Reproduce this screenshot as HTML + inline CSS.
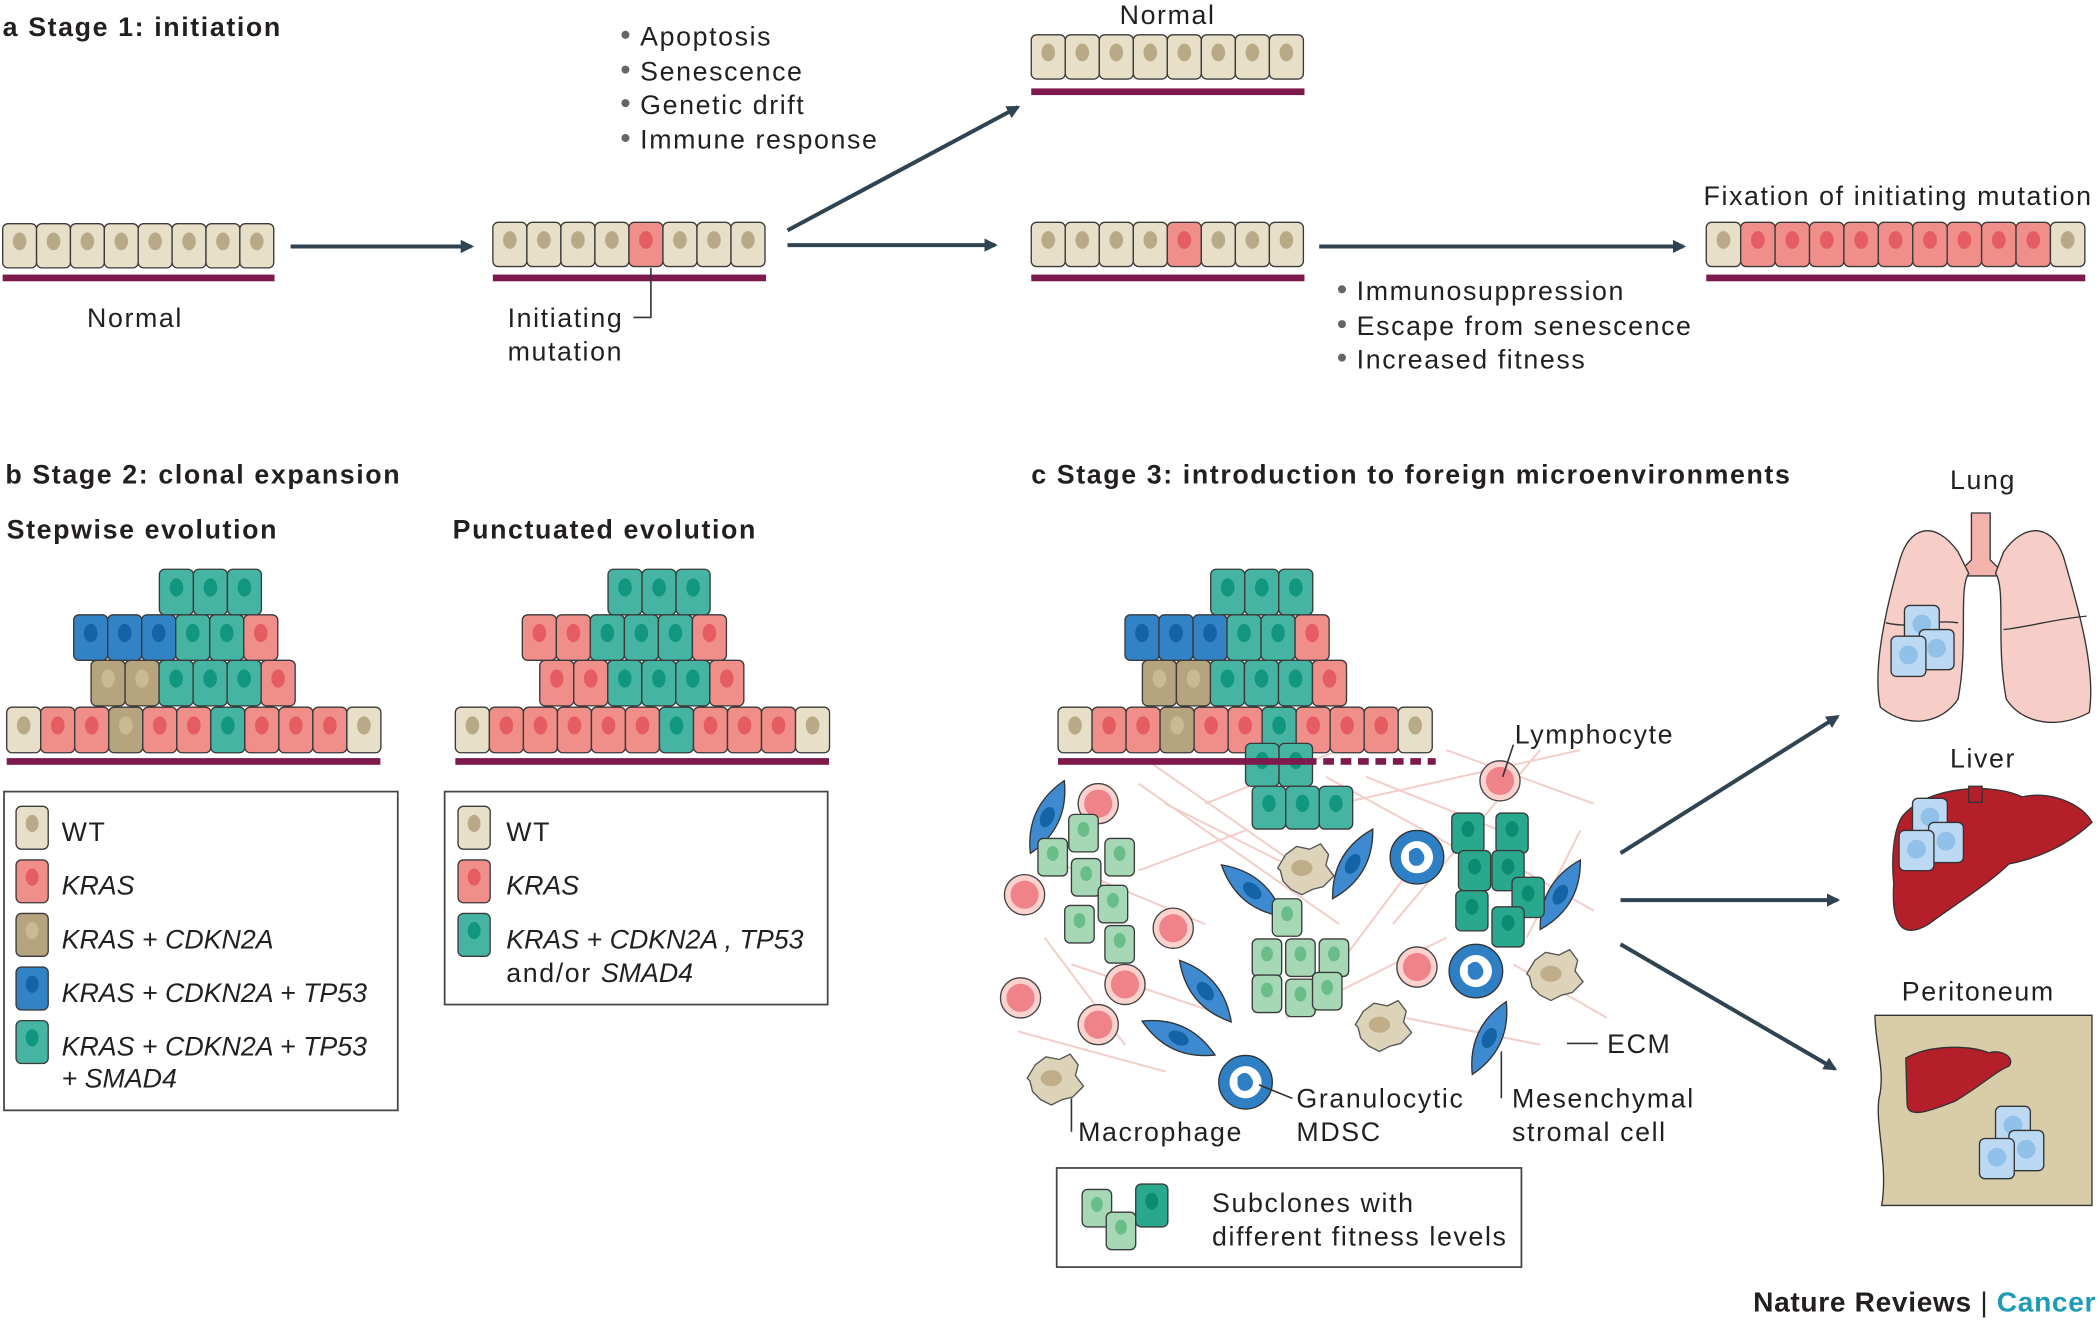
<!DOCTYPE html>
<html><head><meta charset="utf-8">
<style>
html,body{margin:0;padding:0;background:#fff;}
svg{display:block;}
text{font-family:"Liberation Sans",sans-serif;fill:#231f20;}
.h{font-weight:bold;font-size:20px;letter-spacing:1.2px;}
.t{font-size:20px;letter-spacing:1.2px;}
.i{font-size:20px;font-style:italic;}
</style></head>
<body>
<svg id="s" width="2100" height="1322" viewBox="0 0 1568 987" preserveAspectRatio="none" xmlns="http://www.w3.org/2000/svg">
<defs>
<marker id="ar" markerWidth="10" markerHeight="10" refX="8" refY="5" orient="auto" markerUnits="userSpaceOnUse"><path d="M0,0 L10,5 L0,10 Z" fill="#2f4450"/></marker>
</defs>
<!-- ECM lines -->
<g stroke="#f1c9c3" stroke-width="1.5" fill="none" opacity="0.9">
<path d="M850,585 L1000,690 M870,600 L990,660 M990,580 L1100,640 M1000,600 L1180,560 M1150,560 L1040,690 M780,640 L900,690 M760,770 L870,800 M800,720 L920,760 M960,760 L1080,700 M1130,720 L1200,760 M1180,620 L1140,700 M1050,760 L1150,780 M850,650 L930,620 M1000,720 L1060,640 M780,700 L840,780 M1120,640 L1190,680 M860,570 L960,640 M1020,580 L1120,620 M1080,560 L1190,600 M900,600 L1000,560"/>
</g>
<g id="cells"></g>
<g fill="#7d1a4b">
<rect x="2" y="205" width="203" height="5"/>
<rect x="368" y="205" width="204" height="5"/>
<rect x="770" y="66" width="204" height="5"/>
<rect x="770" y="205" width="204" height="5"/>
<rect x="1274" y="205" width="283" height="5"/>
<rect x="5" y="566" width="279" height="5"/>
<rect x="340" y="566" width="279" height="5"/>
<rect x="790" y="566" width="185" height="5"/>
</g>
<path d="M975,568.5 H1072" stroke="#7d1a4b" stroke-width="5" stroke-dasharray="8,5"/>
<g stroke="#2f4450" stroke-width="3" fill="none" marker-end="url(#ar)">
<path d="M217,184 H352"/>
<path d="M588,183 H743"/>
<path d="M588,172 L760,80"/>
<path d="M985,184 H1257"/>
<path d="M1210,637 L1372,535"/>
<path d="M1210,672 H1372"/>
<path d="M1210,705 L1370,798"/>
</g>
<text class="h" x="2" y="27">a  Stage 1: initiation</text>
<text class="t" x="65" y="244">Normal</text>
<text class="t" x="379" y="244">Initiating</text>
<text class="t" x="379" y="269">mutation</text>
<path d="M473,237 H486 V200" stroke="#333" stroke-width="1.2" fill="none"/>
<g fill="#666"><circle cx="467" cy="26" r="3"/><circle cx="467" cy="52" r="3"/><circle cx="467" cy="77" r="3"/><circle cx="467" cy="103" r="3"/>
<circle cx="1002" cy="216" r="3"/><circle cx="1002" cy="242" r="3"/><circle cx="1002" cy="267" r="3"/></g>
<text class="t" x="478" y="34">Apoptosis</text>
<text class="t" x="478" y="60">Senescence</text>
<text class="t" x="478" y="85">Genetic drift</text>
<text class="t" x="478" y="111">Immune response</text>
<text class="t" x="836" y="18">Normal</text>
<text class="t" x="1013" y="224">Immunosuppression</text>
<text class="t" x="1013" y="250">Escape from senescence</text>
<text class="t" x="1013" y="275">Increased fitness</text>
<text class="t" x="1272" y="153">Fixation of initiating mutation</text>
<text class="h" x="4" y="361">b  Stage 2: clonal expansion</text>
<text class="h" x="5" y="402">Stepwise evolution</text>
<text class="h" x="338" y="402">Punctuated evolution</text>
<rect x="3" y="591" width="294" height="238" fill="none" stroke="#444" stroke-width="1.3"/>
<rect x="332" y="591" width="286" height="159" fill="none" stroke="#444" stroke-width="1.3"/>
<text class="t" x="46" y="628">WT</text>
<text class="i" x="46" y="668">KRAS</text>
<text class="i" x="46" y="708">KRAS + CDKN2A</text>
<text class="i" x="46" y="748">KRAS + CDKN2A + TP53</text>
<text class="i" x="46" y="788">KRAS + CDKN2A + TP53</text>
<text class="i" x="46" y="812">+ SMAD4</text>
<text class="t" x="378" y="628">WT</text>
<text class="i" x="378" y="668">KRAS</text>
<text class="i" x="378" y="708">KRAS + CDKN2A , TP53</text>
<text x="378" y="733" class="t">and/or <tspan font-style="italic" letter-spacing="0">SMAD4</tspan></text>
<text class="h" x="770" y="361">c  Stage 3: introduction to foreign microenvironments</text>
<text class="t" x="1131" y="555">Lymphocyte</text>
<path d="M1130,556 L1122,580" stroke="#333" stroke-width="1.2"/>
<text class="t" x="1200" y="786">ECM</text>
<path d="M1170,779 H1193" stroke="#333" stroke-width="1.2"/>
<text class="t" x="1129" y="827">Mesenchymal</text>
<text class="t" x="1129" y="852">stromal cell</text>
<path d="M1121,820 V785" stroke="#333" stroke-width="1.2"/>
<text class="t" x="968" y="827">Granulocytic</text>
<text class="t" x="968" y="852">MDSC</text>
<path d="M940,810 L965,820" stroke="#333" stroke-width="1.2"/>
<text class="t" x="805" y="852">Macrophage</text>
<path d="M800,820 V845" stroke="#333" stroke-width="1.2"/>
<rect x="789" y="872" width="347" height="74" fill="none" stroke="#444" stroke-width="1.3"/>
<text class="t" x="905" y="905">Subclones with</text>
<text class="t" x="905" y="930">different fitness levels</text>
<text class="t" x="1456" y="365">Lung</text>
<text class="t" x="1456" y="573">Liver</text>
<text class="t" x="1420" y="747">Peritoneum</text>
<text class="h" x="1309" y="979" style="font-size:21px;letter-spacing:0.5px">Nature Reviews <tspan font-weight="normal">|</tspan> <tspan style="fill:#1e9bb5">Cancer</tspan></text>
<g stroke="#333" stroke-width="1">
<path d="M1472,383 h14 v35 l12,12 h-38 l12,-12z" fill="#f3b4ad"/>
<path d="M1462,412 C1445,388 1425,392 1418,420 C1408,455 1398,500 1404,528 C1425,545 1450,540 1462,522 C1470,480 1462,440 1470,428z" fill="#f7cdc8"/>
<path d="M1496,412 C1513,388 1535,392 1542,420 C1552,455 1565,500 1560,532 C1535,545 1510,540 1498,522 C1490,480 1498,440 1490,428z" fill="#f7cdc8"/>
<path d="M1408,465 C1430,470 1445,462 1462,465 M1496,470 C1515,468 1535,462 1558,460" fill="none"/>
<path d="M1420,610 C1440,585 1490,585 1510,595 C1530,590 1555,600 1562,614 C1545,630 1525,640 1500,645 C1485,660 1460,675 1440,690 C1420,702 1412,690 1414,660 C1412,640 1414,620 1420,610z" fill="#b51f2a"/>
<path d="M1470,587 h10 v12 h-10z" fill="#b51f2a"/>
<path d="M1400,758 H1562 V900 H1405 C1410,870 1400,840 1403,820 C1408,800 1400,780 1400,758z" fill="#d9cda9"/>
<path d="M1423,790 C1440,780 1470,780 1485,786 C1495,783 1505,790 1500,796 C1490,800 1480,810 1460,822 C1440,830 1425,835 1424,825z" fill="#b51f2a"/>
</g>
<g id="blue"></g>
</svg>
<script>
var S=document.getElementById('cells'),NS="http://www.w3.org/2000/svg";
function el(t,a,p){var e=document.createElementNS(NS,t);for(var k in a)e.setAttribute(k,a[k]);(p||S).appendChild(e);return e;}
var C={W:['#e8dfc8','#b8aa86'],R:['#f08e8a','#e65c63'],T:['#b6a47f','#c9ba94'],B:['#3282c6','#1462a8'],G:['#45b4a2','#11967f'],L:['#a6d8b6','#68bd88'],D:['#2aa88e','#0d8a72']};
function cell(x,y,w,h,t){var c=C[t];el('rect',{x:x,y:y,width:w,height:h,rx:4,fill:c[0],stroke:'#3a3a3a','stroke-width':1});
el('ellipse',{cx:x+w/2,cy:y+h*0.4,rx:w*0.2,ry:h*0.2,fill:c[1]});}
function row(x,y,w,h,s){for(var i=0;i<s.length;i++)cell(x+i*w,y,w,h,s[i]);}
var h=33;
row(2,167,25.3,h,'WWWWWWWW');
row(368,166,25.4,h,'WWWWRWWW');
row(770,26,25.4,h,'WWWWWWWW');
row(770,166,25.4,h,'WWWWRWWW');
row(1274,166,25.7,h,'WRRRRRRRRRW');
function pyr(dx){row(5+dx,528,25.4,34,'WRRTRRGRRRW');row(68+dx,493,25.4,34,'TTGGGR');row(55+dx,459,25.4,34,'BBBGGR');row(119+dx,425,25.4,34,'GGG');}
pyr(0);pyr(785);
row(340,528,25.4,34,'WRRRRRGRRRW');row(403,493,25.4,34,'RRGGGR');row(390,459,25.4,34,'RRGGGR');row(454,425,25.4,34,'GGG');
var lg='WRTBG';for(var i=0;i<5;i++)cell(12,602+i*40,24,32,lg[i]);
var lg2='WRG';for(var i=0;i<3;i++)cell(342,602+i*40,24,32,lg2[i]);
row(930,555,25,32,'GG');row(935,587,25,32,'GGG');
function circ(x,y,r){el('circle',{cx:x,cy:y,r:r,fill:'#fbd2cd',stroke:'#444','stroke-width':1});el('circle',{cx:x,cy:y,r:r*0.7,fill:'#f0828a'});}
[[820,600],[765,668],[876,693],[762,745],[820,765],[840,735],[1058,722],[1120,583]].forEach(function(p){circ(p[0],p[1],15);});
function spin(x,y,a){var g=el('g',{transform:'translate('+x+','+y+') rotate('+a+')'});el('path',{d:'M-30,0 C-10,-12 10,-12 30,0 C10,12 -10,12 -30,0z',fill:'#3d8ad0',stroke:'#333','stroke-width':1},g);el('ellipse',{cx:0,cy:0,rx:8,ry:5,fill:'#1463a6'},g);}
[[782,610,-65],[935,665,40],[1010,645,-60],[900,740,50],[880,775,25],[1112,775,-65],[1165,668,-60]].forEach(function(p){spin(p[0],p[1],p[2]);});
function mac(x,y){el('path',{d:'M'+(x-18)+','+y+' l6,-10 l8,-6 l10,2 l8,-4 l6,8 l-2,8 l6,8 l-8,8 l-8,2 l-8,4 l-8,-4 l-6,-6 l-2,-8z',fill:'#ddd3b8',stroke:'#555','stroke-width':1});el('ellipse',{cx:x,cy:y,rx:8,ry:6,fill:'#bfae88'});}
[[972,648],[1030,765],[1158,727],[785,805]].forEach(function(p){mac(p[0],p[1]);});
function gm(x,y){el('circle',{cx:x,cy:y,r:20,fill:'#2f7fc5',stroke:'#333','stroke-width':1});el('circle',{cx:x,cy:y,r:12,fill:'#fff'});el('path',{d:'M'+(x-6)+','+(y-4)+' q6,-6 10,0 q4,6 -2,10 q-6,2 -8,-4',fill:'#2f7fc5'});}
[[1058,640],[1102,725],[930,808]].forEach(function(p){gm(p[0],p[1]);});
[[808,622],[785,640],[810,655],[835,640],[830,675],[805,690],[835,705]].forEach(function(p){cell(p[0]-10,p[1]-14,22,28,'L');});
[[960,685],[945,715],[970,715],[995,715],[945,742],[970,745],[990,740]].forEach(function(p){cell(p[0]-10,p[1]-14,22,28,'L');});
[[1095,622],[1128,622],[1100,650],[1125,650],[1140,670],[1098,680],[1125,692]].forEach(function(p){cell(p[0]-11,p[1]-15,24,30,'D');});
cell(808,888,22,28,'L');cell(826,905,22,28,'L');cell(848,884,24,32,'D');
function sq(x,y){var b=document.getElementById('blue');el('rect',{x:x,y:y,width:26,height:30,rx:4,fill:'#bcd9f3',stroke:'#333','stroke-width':1},b);el('circle',{cx:x+13,cy:y+14,r:7,fill:'#91c0e8'},b);}
[[1422,452],[1433,470],[1412,475]].forEach(function(p){sq(p[0],p[1]);});
[[1428,596],[1440,614],[1418,620]].forEach(function(p){sq(p[0],p[1]);});
[[1490,826],[1500,844],[1478,850]].forEach(function(p){sq(p[0],p[1]);});
</script>
</body></html>
